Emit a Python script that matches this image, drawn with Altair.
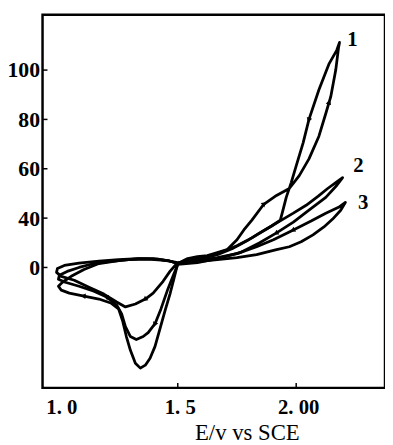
import altair as alt
import pandas as pd

# ---- curve 1 (largest anodic current) : E (V vs SCE), I (axis units)
c1_E = [1.5, 1.542, 1.583, 1.625, 1.667, 1.708, 1.75, 1.779, 1.813, 1.863, 1.917, 1.971, 2.013, 2.054, 2.096, 2.125, 2.146, 2.167, 2.179, 2.183,
        2.171, 2.138, 2.096, 2.054, 2.029, 2.0, 1.979, 1.958, 1.942, 1.933, 1.896, 1.846, 1.792, 1.729, 1.667, 1.583, 1.5,
        1.483, 1.467, 1.446, 1.425, 1.404, 1.383, 1.363, 1.342, 1.321, 1.3, 1.283, 1.267, 1.25, 1.217, 1.167, 1.104, 1.042, 1.008, 0.996,
        1.013, 1.05, 1.104, 1.167, 1.25, 1.333, 1.396, 1.458, 1.5]
c1_I = [3.2, 7.2, 8.8, 9.6, 12, 14.4, 22.4, 30.4, 38.4, 45.6, 49.2, 52, 57.2, 64, 73.2, 82.4, 89.2, 100, 109.2, 111.2,
        108, 102.4, 92, 80, 70.4, 61.2, 54.4, 48.4, 42.4, 38.4, 33.6, 28, 21.6, 15.2, 10.4, 6.4, 3.2,
        -9.6, -21.6, -35.2, -49.6, -64, -73.6, -79.2, -81.6, -77.6, -67.2, -56, -43.2, -33.6, -28.8, -25.6, -23.2, -20.8, -18.4, -15.2,
        -12, -7.2, -1.6, 3.2, 5.6, 7.2, 7.2, 5.6, 3.2]

# ---- curve 2
c2_E = [1.5, 1.563, 1.625, 1.688, 1.75, 1.813, 1.875, 1.938, 1.988, 2.042, 2.092, 2.133, 2.167, 2.196,
        2.171, 2.125, 2.054, 1.988, 1.917, 1.846, 1.763, 1.667, 1.583, 1.5,
        1.483, 1.458, 1.429, 1.404, 1.375, 1.354, 1.325, 1.3, 1.279, 1.263, 1.242, 1.2, 1.146, 1.083, 1.025, 0.996,
        1.0, 1.033, 1.083, 1.146, 1.208, 1.292, 1.375, 1.458, 1.5]
c2_I = [3.2, 6.4, 8.8, 12.8, 17.6, 24, 31.2, 38.4, 42, 45.2, 48.8, 52, 54.4, 56.4,
        53.2, 48.4, 43.2, 36.8, 28, 20, 12, 7.2, 4, 2.4,
        -5.6, -17.6, -33.6, -45.6, -52.8, -56, -58.4, -56, -48, -37.6, -30.4, -24, -19.2, -15.2, -12, -9.6,
        -6.4, -3.2, 0, 3.2, 4.8, 6.4, 6.8, 5.6, 3.2]

# ---- curve 3
c3_E = [1.5, 1.583, 1.667, 1.75, 1.833, 1.917, 1.971, 2.021, 2.071, 2.117, 2.154, 2.188, 2.208,
        2.179, 2.125, 2.063, 1.988, 1.904, 1.833, 1.75, 1.667, 1.583, 1.5,
        1.467, 1.438, 1.396, 1.363, 1.321, 1.279, 1.242, 1.188, 1.125, 1.063, 1.008, 0.988,
        0.992, 1.021, 1.083, 1.167, 1.25, 1.333, 1.417, 1.5]
c3_I = [3.2, 4.8, 6.4, 8, 10.4, 14.4, 16.8, 20.8, 26.4, 32.8, 39.2, 43.2, 46.4,
        44.4, 42, 37.6, 30.4, 22.4, 16.8, 11.2, 8, 5.6, 4,
        -3.2, -11.2, -20.8, -25.6, -29.6, -32, -28, -21.6, -16, -10.4, -7.2, -4,
        -0.8, 1.6, 3.6, 5.2, 6.4, 7.2, 6.8, 4]

# scan-direction arrowheads
arrow_E = [2.138, 2.054, 1.863, 1.917, 1.988, 1.363, 1.404, 1.2, 1.104]
arrow_I = [86.7, 80, 45.6, 28, 30.4, -25.6, -45.6, -24, -23.2]
arrow_ang = [13, 198, 52, 240, 245, 233, 200, 290, 275]

# curve labels
lab_text = ["1", "2", "3"]
lab_E = [2.2375, 2.2625, 2.283]
lab_I = [112, 61.2, 46]

# axis ticks
x_ticks = [1.0, 1.5, 2.0]
x_tick_marks = [1.5, 2.0]
y_ticks = [0, 40, 60, 80, 100]

rows = []
for name, Es, Is in [("1", c1_E, c1_I), ("2", c2_E, c2_I), ("3", c3_E, c3_I)]:
    for k, (e, i) in enumerate(zip(Es, Is)):
        rows.append({"curve": name, "E": e, "I": i, "k": k})
df = pd.DataFrame(rows)
arrows = pd.DataFrame({"E": arrow_E, "I": arrow_I, "a": arrow_ang})
labels = pd.DataFrame({"E": lab_E, "I": lab_I, "t": lab_text})

W, H = 347, 378
xscale = alt.Scale(domain=[0.929, 2.375], nice=False, zero=False)
yscale = alt.Scale(domain=[-97.6, 40, 122.4], range=[H, 206, 0], nice=False, zero=False)

FONT = "Liberation Serif"

xaxis = alt.Axis(values=x_ticks,
                 labelExpr="datum.value == 1 ? '1. 0' : (datum.value == 1.5 ? '1. 5' : '2. 00')",
                 labelPadding=9, labelFontSize=21, labelOffset=2, title="E/v vs SCE",
                 titleX=207, titleY=52, titleAlign="center", titleBaseline="alphabetic")
yaxis = alt.Axis(values=y_ticks, labelPadding=3, labelFontSize=22, title="")

X = alt.X("E:Q", scale=xscale, axis=xaxis)
Y = alt.Y("I:Q", scale=yscale, axis=yaxis)

lines = alt.Chart(df).mark_line(color="black", strokeWidth=2.8, strokeJoin="round", strokeCap="round").encode(
    x=X, y=Y, detail="curve:N", order="k:Q",
)

arrow_layer = alt.Chart(arrows).mark_point(shape="triangle", filled=True, size=32, color="black", opacity=1).encode(
    x=X, y=Y, angle=alt.Angle("a:Q", scale=None),
)

label_layer = alt.Chart(labels).mark_text(font=FONT, fontWeight="bold", fontSize=21, color="black",
                                          align="center", baseline="middle").encode(
    x=X, y=Y, text="t:N",
)

xt = alt.Chart(pd.DataFrame({"E": x_tick_marks})).mark_rule(color="black", strokeWidth=1.5).encode(
    x=X, y=alt.value(H), y2=alt.value(H - 5),
)
yt = alt.Chart(pd.DataFrame({"I": y_ticks})).mark_rule(color="black", strokeWidth=1.5).encode(
    y=Y, x=alt.value(0), x2=alt.value(5),
)

chart = alt.layer(lines, arrow_layer, label_layer, xt, yt).properties(
    width=W, height=H,
    autosize=alt.AutoSizeParams(type="none"),
    padding={"left": 35, "top": 4, "right": 0, "bottom": 55},
).configure_view(
    stroke="black", strokeWidth=2.5
).configure_axis(
    labelFont=FONT, labelFontWeight="bold", labelColor="black",
    titleFont=FONT, titleFontWeight="normal", titleFontSize=23, titleColor="black",
    ticks=False, domain=False, grid=False,
)

chart.save("out.html", embed_options={"renderer": "svg", "actions": False})
